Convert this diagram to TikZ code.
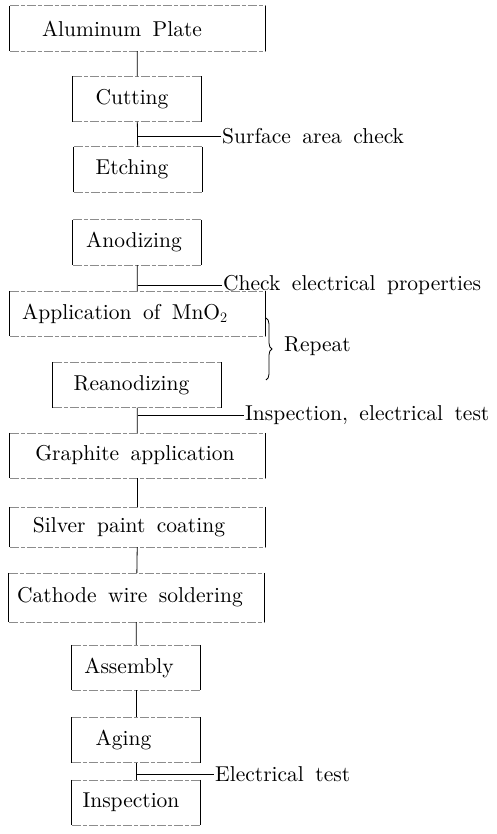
\documentclass[tikz,border=0pt]{standalone}
\usepackage{fontspec}
\setmainfont{lmroman10-regular}[Extension=.otf, WordSpace=1.6]
\usetikzlibrary{decorations.pathreplacing}
\begin{document}
\begin{tikzpicture}[x=1pt,y=-1pt,
  txt/.style={font=\fontsize{21.5}{24}\selectfont},
  proc/.style={txt,inner sep=0pt,minimum height=45pt},
  wide/.style={proc,minimum width=255pt},
  narrow/.style={proc,minimum width=128pt},
  mid/.style={proc,minimum width=168pt},
  tl/.style={execute at end node={\kern#1pt}},
  topbot/.style={draw=black!45,line width=0.6pt,dash pattern=on 9pt off 2pt on 4pt off 2pt},
  side/.style={draw=black,line width=0.9pt},
  conn/.style={draw=black,line width=0.8pt},
  branch/.style={draw=black,line width=0.6pt},
  lab/.style={txt,anchor=west,inner sep=1pt}]
\useasboundingbox (0,0) rectangle (497,834);

\node[wide,tl=31]   (alu)    at (137.5,28.5) {Aluminum Plate};
\node[narrow,tl=10] (cut)    at (137,99)     {Cutting};
\node[narrow,tl=12] (etch)   at (138,169.5)  {Etching};
\node[narrow,tl=6]  (anod)   at (137,242.5)  {Anodizing};
\node[wide,tl=25]   (mno)    at (137.5,313.5){Application of MnO$_2$};
\node[mid,tl=11]    (rean)   at (137,385)    {Reanodizing};
\node[wide,tl=5]    (graph)  at (137.5,455.5){Graphite application};
\node[wide,tl=17,minimum height=40pt] (silver) at (137.5,527) {Silver paint coating};
\node[wide,tl=13,minimum height=49pt] (cath) at (136.5,597.5) {Cathode wire soldering};
\node[narrow,tl=14] (assem)  at (136,667.5)  {Assembly};
\node[narrow,tl=25] (aging)  at (136,740)    {Aging};
\node[narrow,tl=10] (insp)   at (136,802.5)  {Inspection};

\foreach \n in {alu,cut,etch,anod,mno,rean,graph,silver,cath,assem,aging,insp}{
  \draw[topbot] (\n.north west) -- (\n.north east);
  \draw[topbot] (\n.south west) -- (\n.south east);
  \draw[side] (\n.north west) -- (\n.south west);
  \draw[side] (\n.north east) -- (\n.south east);
}

% plain connectors
\draw[conn] (alu) -- (cut);
\draw[conn] (cut) -- (etch);
\draw[conn] (anod) -- (mno);
\draw[conn] (rean) -- (graph);
\draw[conn] (graph) -- (silver);
\draw[conn] (silver) -- (cath);
\draw[conn] (cath) -- (assem);
\draw[conn] (assem) -- (aging);
\draw[conn] (aging) -- (insp);

% branch labels
\node[lab] (l1) at (221,136) {Surface area check};
\coordinate (b1) at (137.5,136);
\draw[branch] (b1) -- (l1.west);

\node[lab] (l2) at (222,285) {Check electrical properties};
\coordinate (b2) at (137.5,285);
\draw[branch] (b2) -- (l2.west);

\node[lab] (l3) at (244,415) {Inspection,\ electrical test};
\coordinate (b3) at (137.5,415);
\draw[branch] (b3) -- (l3.west);

\node[lab] (l4) at (214,774) {Electrical test};
\coordinate (b4) at (136,774);
\draw[branch] (b4) -- (l4.west);

% repeat brace
\coordinate (r1) at (266,318);
\coordinate (r2) at (266,380);
\draw[line width=0.8pt,decorate,decoration={brace,amplitude=6pt}] (r1) -- (r2);
\node[lab] (rep) at (283,346) {Repeat};
\end{tikzpicture}
\end{document}
